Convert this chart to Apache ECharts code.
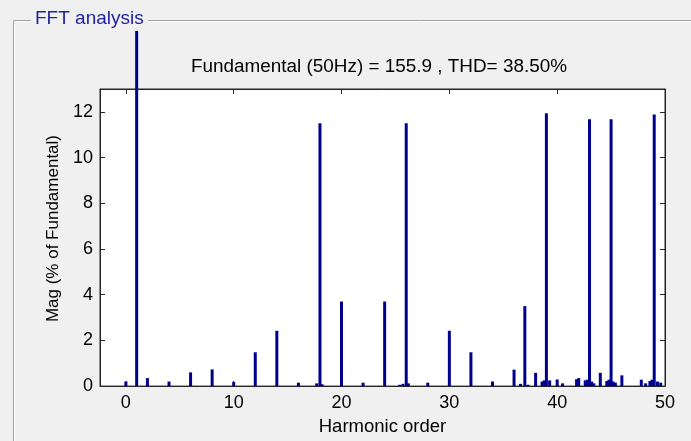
<!DOCTYPE html>
<html>
<head>
<meta charset="utf-8">
<script src="https://cdn.jsdelivr.net/npm/echarts@6/dist/echarts.min.js"></script>
<style>
html,body{margin:0;padding:0;background:#F0F0F0;}
#chart{width:691px;height:441px;}
</style>
</head>
<body>
<div id="chart"></div>
<script>
// Harmonic orders and magnitudes (% of fundamental)
var harmonics = [0, 1, 2, 4, 6, 8, 10, 12, 14, 16, 17.7, 18, 18.2, 20, 22, 24, 25.4, 25.7, 26, 26.2, 28, 30, 32, 34,
  36, 36.6, 37, 37.3, 38, 38.6, 38.8, 39, 39.3, 40, 40.5, 41.8, 42, 42.6, 42.8, 43, 43.2, 43.4,
  44, 44.6, 44.8, 45, 45.2, 45.4, 46, 47.8, 48.2, 48.6, 48.8, 49, 49.3, 49.6];
var magnitudes = [0.2, 100, 0.35, 0.2, 0.6, 0.73, 0.18, 1.48, 2.42, 0.15, 0.12, 11.5, 0.08, 3.7, 0.15, 3.7, 0.06, 0.1, 11.5, 0.12, 0.15, 2.42, 1.48, 0.2,
  0.72, 0.1, 3.5, 0.06, 0.58, 0.2, 0.25, 11.94, 0.25, 0.29, 0.12, 0.3, 0.35, 0.25, 0.28, 11.68, 0.2, 0.12,
  0.58, 0.22, 0.28, 11.68, 0.2, 0.15, 0.47, 0.28, 0.12, 0.22, 0.28, 11.88, 0.2, 0.15];
var xTickValues = [0, 10, 20, 30, 40, 50];
var yTickValues = [0, 2, 4, 6, 8, 10, 12];
var titleText = 'Fundamental (50Hz) = 155.9 , THD= 38.50%';
var panelTitle = 'FFT analysis';
var xName = 'Harmonic order';
var yName = 'Mag (% of Fundamental)';

var data = harmonics.map(function (h, i) { return [h, magnitudes[i]]; });

var FONT = 'Liberation Sans, Arial, sans-serif';
var lineCol = '#262626';
var xMin = -2.4, xMax = 50, yMin = 0, yMax = 13;

var chart = echarts.init(document.getElementById('chart'), null, {renderer: 'canvas'});
chart.setOption({
  animation: false,
  backgroundColor: '#F0F0F0',
  title: {
    text: titleText,
    left: 374,
    top: 52,
    textAlign: 'center',
    textStyle: {fontFamily: FONT, fontSize: 18.9, fontWeight: 'normal', color: '#000'}
  },
  grid: {
    left: 100, top: 89, right: 26, bottom: 52,
    show: true, backgroundColor: '#ffffff', borderColor: lineCol, borderWidth: 1
  },
  xAxis: [{
    type: 'value', min: xMin, max: xMax, position: 'bottom',
    name: xName, nameLocation: 'middle', nameGap: 30,
    nameTextStyle: {fontFamily: FONT, fontSize: 18.5, color: '#000'},
    axisLine: {show: true, onZero: false, lineStyle: {color: lineCol}},
    axisTick: {show: true, inside: true, length: 5, customValues: xTickValues, lineStyle: {color: lineCol}},
    axisLabel: {show: true, customValues: xTickValues, margin: 8, fontFamily: FONT, fontSize: 18, color: '#000'},
    splitLine: {show: false}
  }, {
    type: 'value', min: xMin, max: xMax, position: 'top',
    axisLine: {show: true, onZero: false, lineStyle: {color: lineCol}},
    axisTick: {show: true, inside: true, length: 5, customValues: xTickValues, lineStyle: {color: lineCol}},
    axisLabel: {show: false},
    splitLine: {show: false}
  }],
  yAxis: [{
    type: 'value', min: yMin, max: yMax, position: 'left',
    name: yName, nameLocation: 'middle', nameGap: 38,
    nameTextStyle: {fontFamily: FONT, fontSize: 17, color: '#000', padding: [0, 0, 0, 18]},
    axisLine: {show: true, onZero: false, lineStyle: {color: lineCol}},
    axisTick: {show: true, inside: true, length: 5, customValues: yTickValues, lineStyle: {color: lineCol}},
    axisLabel: {show: true, customValues: yTickValues, margin: 7, fontFamily: FONT, fontSize: 18, color: '#000'},
    splitLine: {show: false}
  }, {
    type: 'value', min: yMin, max: yMax, position: 'right',
    axisLine: {show: true, onZero: false, lineStyle: {color: lineCol}},
    axisTick: {show: true, inside: true, length: 5, customValues: yTickValues, lineStyle: {color: lineCol}},
    axisLabel: {show: false},
    splitLine: {show: false}
  }],
  series: [{
    type: 'bar',
    xAxisIndex: 0, yAxisIndex: 0,
    data: data,
    barWidth: 3,
    clip: false,
    itemStyle: {color: '#00008F'},
    silent: true
  }],
  graphic: [
    {type: 'rect', z: 50, shape: {x: 0, y: 0, width: 691, height: 31}, style: {fill: '#F0F0F0'}},
    // etched panel frame
    {type: 'line', z: 51, shape: {x1: 13.5, y1: 20.5, x2: 31, y2: 20.5}, style: {stroke: '#A0A0A0', lineWidth: 1}},
    {type: 'line', z: 51, shape: {x1: 14.5, y1: 21.5, x2: 31, y2: 21.5}, style: {stroke: '#FFFFFF', lineWidth: 1}},
    {type: 'line', z: 51, shape: {x1: 148, y1: 20.5, x2: 691, y2: 20.5}, style: {stroke: '#A0A0A0', lineWidth: 1}},
    {type: 'line', z: 51, shape: {x1: 148, y1: 21.5, x2: 691, y2: 21.5}, style: {stroke: '#FFFFFF', lineWidth: 1}},
    {type: 'line', z: 51, shape: {x1: 13.5, y1: 20.5, x2: 13.5, y2: 441}, style: {stroke: '#A0A0A0', lineWidth: 1}},
    {type: 'line', z: 51, shape: {x1: 14.5, y1: 21.5, x2: 14.5, y2: 441}, style: {stroke: '#FFFFFF', lineWidth: 1}},
    {type: 'text', z: 52, x: 35, y: 19, style: {text: panelTitle, fontFamily: FONT, fontSize: 19, fill: '#2323A0', verticalAlign: 'middle', textAlign: 'left'}}
  ]
});
</script>
</body>
</html>
